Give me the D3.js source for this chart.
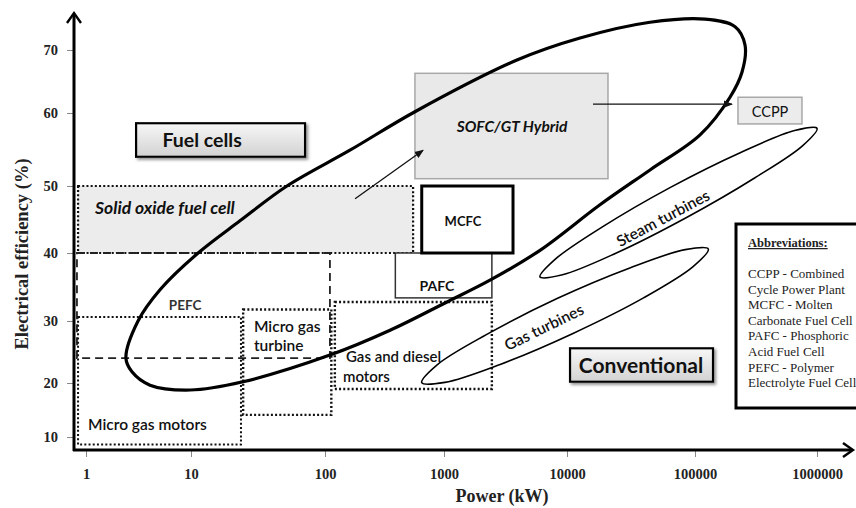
<!DOCTYPE html>
<html><head><meta charset="utf-8">
<script src="https://cdn.jsdelivr.net/npm/d3@7"></script>
<style>body{margin:0;background:#fff} svg{display:block}</style>
</head><body>
<svg id="chart" width="856" height="508"></svg>
<script>
// ---------- data ----------
const xTickValues = [1, 10, 100, 1000, 10000, 100000, 1000000];
const yTickValues = [10, 20, 30, 40, 50, 60, 70];

// technology regions (power kW, efficiency %)
const regionNames    = ["sofc", "pefc", "microMotors", "microTurbine", "gasDiesel", "pafc", "mcfc", "hybrid", "ccpp"];
const regionPowerMin = [0.84, 0.82, 0.84, 24.5, 121, 390, 650, 570, 225000];
const regionPowerMax = [550, 110, 23.6, 113, 2450, 2450, 3640, 20900, 753000];
const regionEffMin   = [40, 24, 8.6, 14.1, 18.9, 33.4, 40, 51.0, 58.5];
const regionEffMax   = [50, 40, 30.6, 31.7, 32.8, 40, 50, 66.3, 62.5];

// envelope outlines
const fuelCellPower = [2.40,3.13,5.07,11.3,23.2,52,162,570,3917,12640,44500,120800,213000,257000,243000,193600,110000,44500,18100,6030,2366,1058,352,110,24.4,9.8,4.07,2.74];
const fuelCellEff   = [24.0,30,34.6,40,44.8,50,54.9,60.2,68.4,71.9,74.4,74.9,73.7,70.8,66.5,62.5,57.0,52.2,47.2,40.4,36.0,32.8,28.5,24.5,20.2,18.7,19.6,21.8];
const steamPower = [1000000,760000,308000,85900,24300,9190,6030,7910,18900,64300,237000,655000];
const steamEff   = [57.9,55.5,51.1,45.3,40.0,36.8,36.5,39.0,43.9,49.8,54.6,57.6];
const gasPower = [128500,96600,39600,11140,2860,1017,650,871,2210,8300,30960,83800];
const gasEff   = [40.6,38.0,33.4,28.0,23.0,20.1,20.05,22.9,27.8,33.3,37.8,40.5];

// category tag boxes
const tagNames    = ["Fuel cells", "Conventional"];
const tagPowerMin = [3.0, 10560];
const tagPowerMax = [71, 140500];
const tagEffMin   = [54.0, 20.2];
const tagEffMax   = [58.6, 25.6];
const tagTextPower = [12.1, 37850];

// arrows
const arrowFromPower = [15970, 179];
const arrowFromEff   = [61.4, 48.1];
const arrowToPower   = [201000, 667];
const arrowToEff     = [61.4, 54.9];

// labels
const labelText  = ["Solid oxide fuel cell","PEFC","Micro gas","turbine","Micro gas motors","Gas and diesel","motors","PAFC","MCFC","SOFC/GT Hybrid","CCPP","Steam turbines","Gas turbines"];
const labelPower = [1.22, 8.8, 29.5, 29.5, 1.045, 150, 141.6, 873, 1427, 3574, 412000, 56200, 6500];
const labelEff   = [46.7, 32.4, 29.2, 26.0, 12.4, 24.2, 21.0, 35.1, 44.8, 58.1, 60.2, 45.2, 29.0];

const abbrevTitle = "Abbreviations:";
const abbrevLines = ["CCPP - Combined","Cycle Power Plant","MCFC - Molten","Carbonate Fuel Cell","PAFC - Phosphoric","Acid Fuel Cell","PEFC - Polymer","Electrolyte Fuel Cell"];

// ---------- layout ----------
const svg = d3.select("#chart");
const x = d3.scaleLog().domain(xTickValues).range([86, 191, 325, 444, 567, 695, 817]);
const y = d3.scaleLinear().domain(yTickValues).range([437, 383, 321, 253, 186, 113, 50]);
const axisX0 = 74, axisY0 = 450;
const serif = "'Liberation Serif','Times New Roman',serif";
const sans = "Lato,'Open Sans',sans-serif";

const defs = svg.append("defs");
const g1 = defs.append("linearGradient").attr("id","tagGrad").attr("x1",0).attr("y1",0).attr("x2",0).attr("y2",1);
g1.append("stop").attr("offset","0%").attr("stop-color","#f7f7f7");
g1.append("stop").attr("offset","100%").attr("stop-color","#d2d2d2");
const flt = defs.append("filter").attr("id","shadow").attr("x","-10%").attr("y","-20%").attr("width","130%").attr("height","160%");
flt.append("feDropShadow").attr("dx",2).attr("dy",2).attr("stdDeviation",1.5).attr("flood-color","#777").attr("flood-opacity",0.8);
defs.append("marker").attr("id","arrowHead").attr("viewBox","0 0 10 10").attr("refX",9).attr("refY",5)
  .attr("markerWidth",7).attr("markerHeight",7).attr("orient","auto-start-reverse")
  .append("path").attr("d","M0,1 L10,5 L0,9 Z").attr("fill","#111");

// ---------- regions ----------
const regionStyle = {
  sofc:        {fill:"#ececec", stroke:"#111", sw:2.2, dash:"2,2.2"},
  pefc:        {fill:"none", stroke:"#222", sw:1.8, dash:"8,5"},
  microMotors: {fill:"none", stroke:"#111", sw:2, dash:"2,2.2"},
  microTurbine:{fill:"none", stroke:"#111", sw:2.4, dash:"2,2.2"},
  gasDiesel:   {fill:"none", stroke:"#111", sw:2.4, dash:"2,2.2"},
  pafc:        {fill:"#fff", stroke:"#333", sw:1.5, dash:null},
  mcfc:        {fill:"#fff", stroke:"#000", sw:3, dash:null},
  hybrid:      {fill:"#e9e9e9", stroke:"#a8a8a8", sw:1.5, dash:null},
  ccpp:        {fill:"#ececec", stroke:"#a8a8a8", sw:1.5, dash:null}
};
const order = ["sofc","hybrid","ccpp","pafc","mcfc","pefc","microMotors","microTurbine","gasDiesel"];
const regions = regionNames.map((n,i)=>({n, x0:regionPowerMin[i], x1:regionPowerMax[i], y0:regionEffMin[i], y1:regionEffMax[i]}))
  .sort((a,b)=>order.indexOf(a.n)-order.indexOf(b.n));
svg.append("g").selectAll("rect").data(regions).join("rect")
  .attr("x", d=>x(d.x0)).attr("y", d=>y(d.y1))
  .attr("width", d=>x(d.x1)-x(d.x0)).attr("height", d=>y(d.y0)-y(d.y1))
  .attr("fill", d=>regionStyle[d.n].fill)
  .attr("stroke", d=>regionStyle[d.n].stroke)
  .attr("stroke-width", d=>regionStyle[d.n].sw)
  .attr("stroke-dasharray", d=>regionStyle[d.n].dash);

// ---------- envelopes ----------
const line = d3.line().x(d=>x(d[0])).y(d=>y(d[1])).curve(d3.curveCatmullRomClosed.alpha(0.5));
const env = [
  {pts: d3.zip(fuelCellPower, fuelCellEff), sw:3.2},
  {pts: d3.zip(steamPower, steamEff), sw:1.6},
  {pts: d3.zip(gasPower, gasEff), sw:1.6}
];
svg.append("g").selectAll("path").data(env).join("path")
  .attr("d", d=>line(d.pts)).attr("fill","none").attr("stroke","#000").attr("stroke-width", d=>d.sw);

// ---------- arrows ----------
svg.append("g").selectAll("line").data(d3.range(arrowFromPower.length)).join("line")
  .attr("x1", i=>x(arrowFromPower[i])).attr("y1", i=>y(arrowFromEff[i]))
  .attr("x2", i=>x(arrowToPower[i])).attr("y2", i=>y(arrowToEff[i]))
  .attr("stroke","#111").attr("stroke-width",1.3).attr("marker-end","url(#arrowHead)");

// ---------- tag boxes ----------
const tags = svg.append("g").selectAll("g").data(d3.range(tagNames.length)).join("g");
tags.append("rect")
  .attr("x", i=>x(tagPowerMin[i])).attr("y", i=>y(tagEffMax[i]))
  .attr("width", i=>x(tagPowerMax[i])-x(tagPowerMin[i])).attr("height", i=>y(tagEffMin[i])-y(tagEffMax[i]))
  .attr("fill","url(#tagGrad)").attr("stroke","#000").attr("stroke-width",2.2).attr("filter","url(#shadow)");
tags.append("text")
  .attr("x", i=>x(tagTextPower[i]))
  .attr("y", i=>(y(tagEffMin[i])+y(tagEffMax[i]))/2)
  .attr("dy","0.36em").attr("text-anchor","middle")
  .attr("font-family", sans).attr("font-weight","bold")
  .attr("font-size", i=> i===0 ? 19.5 : 21).attr("fill","#111")
  .text(i=>tagNames[i]);

// ---------- labels ----------
const labelStyle = {
  "Solid oxide fuel cell": {anchor:"start", size:17.5, weight:"bold", style:"italic", rot:0},
  "PEFC": {anchor:"middle", size:13.5, weight:"bold", style:"normal", rot:0, fill:"#333"},
  "Micro gas": {anchor:"start", size:15.5, weight:"600", style:"normal", rot:0},
  "turbine": {anchor:"start", size:15.5, weight:"600", style:"normal", rot:0},
  "Micro gas motors": {anchor:"start", size:15.5, weight:"600", style:"normal", rot:0},
  "Gas and diesel": {anchor:"start", size:15, weight:"600", style:"normal", rot:0},
  "motors": {anchor:"start", size:15, weight:"600", style:"normal", rot:0},
  "PAFC": {anchor:"middle", size:14, weight:"bold", style:"normal", rot:0},
  "MCFC": {anchor:"middle", size:13, weight:"bold", style:"normal", rot:0},
  "SOFC/GT Hybrid": {anchor:"middle", size:15.5, weight:"bold", style:"italic", rot:0},
  "CCPP": {anchor:"middle", size:14.5, weight:"normal", style:"normal", rot:0},
  "Steam turbines": {anchor:"middle", size:15.5, weight:"600", style:"normal", rot:-28},
  "Gas turbines": {anchor:"middle", size:15.5, weight:"600", style:"normal", rot:-26}
};
svg.append("g").selectAll("text").data(d3.range(labelText.length)).join("text")
  .attr("transform", i=>`translate(${x(labelPower[i])},${y(labelEff[i])}) rotate(${labelStyle[labelText[i]].rot})`)
  .attr("dy","0.36em")
  .attr("text-anchor", i=>labelStyle[labelText[i]].anchor)
  .attr("font-family", sans)
  .attr("font-size", i=>labelStyle[labelText[i]].size)
  .attr("font-weight", i=>labelStyle[labelText[i]].weight)
  .attr("font-style", i=>labelStyle[labelText[i]].style)
  .attr("fill", i=>labelStyle[labelText[i]].fill || "#111")
  .text(i=>labelText[i]);

// ---------- axes ----------
const gx = svg.append("g").attr("transform",`translate(0,${axisY0})`)
  .call(d3.axisBottom(x).tickValues(xTickValues).tickFormat(d3.format("d")).tickSize(7).tickPadding(12));
const gy = svg.append("g").attr("transform",`translate(${axisX0},0)`)
  .call(d3.axisLeft(y).tickValues(yTickValues).tickSize(7).tickPadding(9));
[gx, gy].forEach(g=>{
  g.select(".domain").remove();
  g.selectAll(".tick line").attr("stroke","#888").attr("stroke-width",1);
  g.selectAll(".tick text").attr("font-family", serif).attr("font-weight","bold").attr("font-size",14.5).attr("fill","#222");
});
// main axis lines with arrowheads
svg.append("line").attr("x1",axisX0).attr("y1",axisY0+1).attr("x2",axisX0).attr("y2",14).attr("stroke","#000").attr("stroke-width",3);
svg.append("line").attr("x1",axisX0-1).attr("y1",axisY0).attr("x2",851).attr("y2",axisY0).attr("stroke","#000").attr("stroke-width",3);
svg.append("path").attr("d",`M${axisX0-7},23 L${axisX0},13 L${axisX0+7},23`).attr("fill","none").attr("stroke","#000").attr("stroke-width",2.4);
svg.append("path").attr("d",`M843,${axisY0-7} L853,${axisY0} L843,${axisY0+7}`).attr("fill","none").attr("stroke","#000").attr("stroke-width",2.4);

svg.append("text").attr("x",502).attr("y",496).attr("dy","0.34em").attr("text-anchor","middle")
  .attr("font-family",serif).attr("font-weight","bold").attr("font-size",18).attr("fill","#222").text("Power (kW)");
svg.append("text").attr("transform","translate(21,254) rotate(-90)").attr("dy","0.36em").attr("text-anchor","middle")
  .attr("font-family",serif).attr("font-weight","bold").attr("font-size",18.5).attr("fill","#222").text("Electrical efficiency (%)");

// ---------- abbreviations box ----------
const ab = svg.append("g");
ab.append("rect").attr("x",736).attr("y",224).attr("width",130).attr("height",184).attr("fill","#fff").attr("stroke","#000").attr("stroke-width",3);
ab.append("text").attr("x",748).attr("y",247).attr("font-family",serif).attr("font-weight","bold").attr("font-size",12.5)
  .attr("text-decoration","underline").attr("fill","#222").text(abbrevTitle);
ab.selectAll("text.l").data(abbrevLines).join("text").attr("class","l")
  .attr("x",748).attr("y",(d,i)=>278+i*15.6).attr("font-family",serif).attr("font-size",13).attr("fill","#222").text(d=>d);
</script>
</body></html>
